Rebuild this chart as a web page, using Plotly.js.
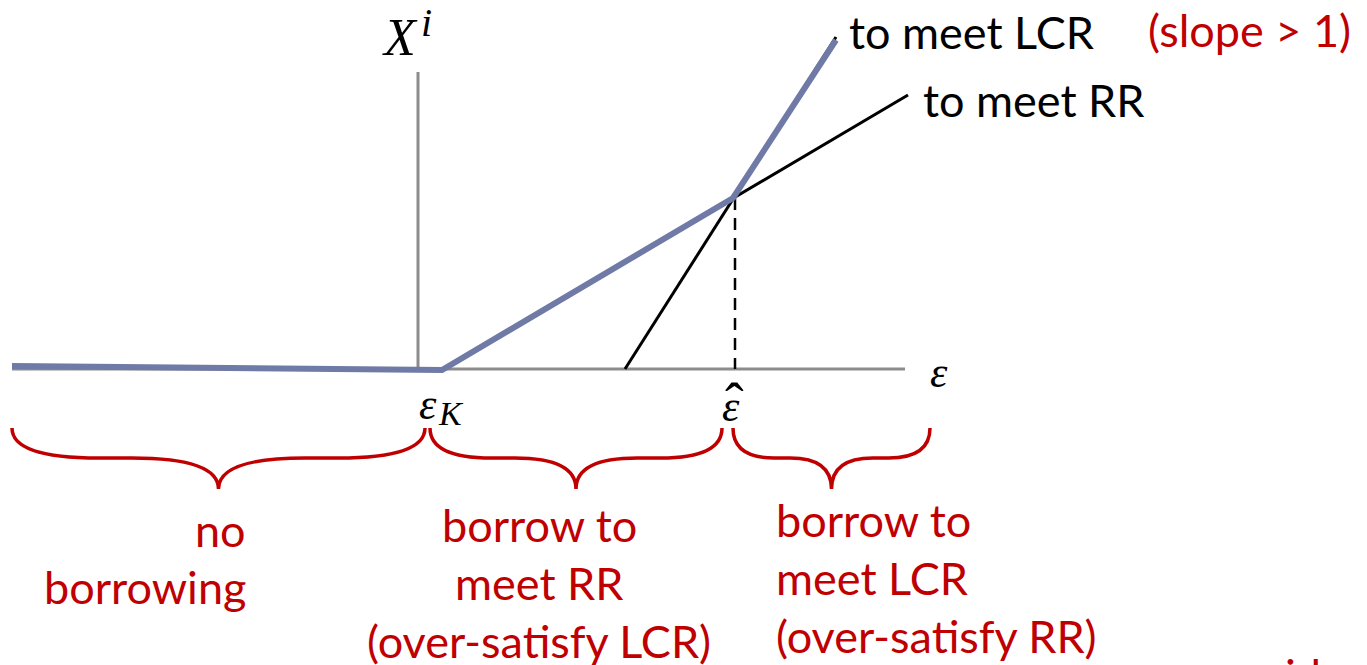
<!DOCTYPE html>
<html>
<head>
<meta charset="utf-8">
<script src="https://cdn.plot.ly/plotly-3.0.1.min.js"></script>
<style>html,body{margin:0;padding:0;background:#fff;}#chart{width:1367px;height:665px;}</style>
</head>
<body>
<div id="chart"></div>
<script>
// ---- data (diagram coordinates) ----
const epsAxisX = [12, 905];
const epsAxisY = [369, 369];
const xAxisX = [418, 418];
const xAxisY = [72, 369];
const blueX = [12, 442, 733, 836];
const blueY = [366, 370, 198, 40];
const rrX = [442, 908];
const rrY = [370, 95];
const lcrX = [625, 836];
const lcrY = [369, 37];
const hatX = [735, 735];
const hatY = [198, 369];
const braceEdges = [[12, 425], [430, 722], [733, 930]];
const regionLines = [
  ["no", "borrowing"],
  ["borrow to", "meet RR", "(over-satisfy LCR)"],
  ["borrow to", "meet LCR", "(over-satisfy RR)"]
];
const curveLabels = ["to meet LCR", "to meet RR"];
const slopeNote = "(slope > 1)";

const RED = "#C00000";
const SANS = "Lato, 'Open Sans', sans-serif";
const SERIF = "'Liberation Serif', 'DejaVu Serif', serif";
const FS = 45;

const traces = [
  {x: epsAxisX, y: epsAxisY, mode: "lines", line: {color: "#8c8c8c", width: 3}},
  {x: xAxisX, y: xAxisY, mode: "lines", line: {color: "#8c8c8c", width: 3}},
  {x: rrX, y: rrY, mode: "lines", line: {color: "#000", width: 3}},
  {x: lcrX, y: lcrY, mode: "lines", line: {color: "#000", width: 3}},
  {x: hatX, y: hatY, mode: "lines", line: {color: "#000", width: 2.5, dash: "12px,8px"}},
  {x: blueX, y: blueY, mode: "lines", line: {color: "#6F7AA6", width: 6}}
];

// braces
const yTop = 428, yMid = 458, yTip = 489;
const shapes = braceEdges.map(([a, b]) => {
  const m = (a + b) / 2;
  const q = (m - a) * 0.42;
  const d = `M ${a},${yTop} Q ${a},${yMid} ${a + q},${yMid} L ${m - q},${yMid} Q ${m},${yMid} ${m},${yTip} ` +
            `Q ${m},${yMid} ${m + q},${yMid} L ${b - q},${yMid} Q ${b},${yMid} ${b},${yTop}`;
  return {type: "path", xref: "x", yref: "y", path: d, line: {color: RED, width: 3.5}};
});

const ann = [];
function T(text, x, y, opts) {
  ann.push(Object.assign({text: text, x: x, y: y, xref: "x", yref: "y", showarrow: false,
    xanchor: "center", yanchor: "middle", font: {family: SANS, size: FS, color: "#000"}}, opts || {}));
}
// math labels
T("<i>X</i>", 400, 37, {font: {family: SERIF, size: 52, color: "#000"}});
T("<i>i</i>", 426, 22, {font: {family: SERIF, size: 40, color: "#000"}});
T("<i>ε</i>", 939, 372, {font: {family: SERIF, size: 44, color: "#000"}});
T("<i>ε</i>", 428, 404, {font: {family: SERIF, size: 44, color: "#000"}});
T("<i>K</i>", 451, 413, {font: {family: SERIF, size: 34, color: "#000"}});
T("<i>ε</i>", 731, 406, {font: {family: SERIF, size: 44, color: "#000"}});
T("ˆ", 734, 403, {font: {family: SERIF, size: 56, color: "#000"}});
// curve labels
T(curveLabels[0], 847, 32, {xanchor: "left"});
T(curveLabels[1], 921, 100, {xanchor: "left"});
T(slopeNote, 1146, 30, {xanchor: "left", font: {family: SANS, size: FS, color: RED}});
// region labels
const lineGap = 58;
regionLines[0].forEach((s, i) => T(s, 248, 530 + i * 57, {xanchor: "right", font: {family: SANS, size: FS, color: RED}}));
regionLines[1].forEach((s, i) => T(s, 539, 525 + i * lineGap, {font: {family: SANS, size: FS, color: RED}}));
regionLines[2].forEach((s, i) => T(s, 774, 520 + i * lineGap, {xanchor: "left", font: {family: SANS, size: FS, color: RED}}));
// cut-off text at bottom right
T("id", 1283, 646, {xanchor: "left", yanchor: "top", font: {family: SANS, size: FS, color: RED}});

const layout = {
  width: 1367, height: 665,
  margin: {l: 0, r: 0, t: 0, b: 0},
  paper_bgcolor: "#fff", plot_bgcolor: "#fff",
  showlegend: false,
  xaxis: {range: [0, 1367], visible: false, fixedrange: true},
  yaxis: {range: [665, 0], visible: false, fixedrange: true},
  shapes: shapes,
  annotations: ann
};
Plotly.newPlot("chart", traces, layout, {staticPlot: true, displayModeBar: false});
</script>
</body>
</html>
